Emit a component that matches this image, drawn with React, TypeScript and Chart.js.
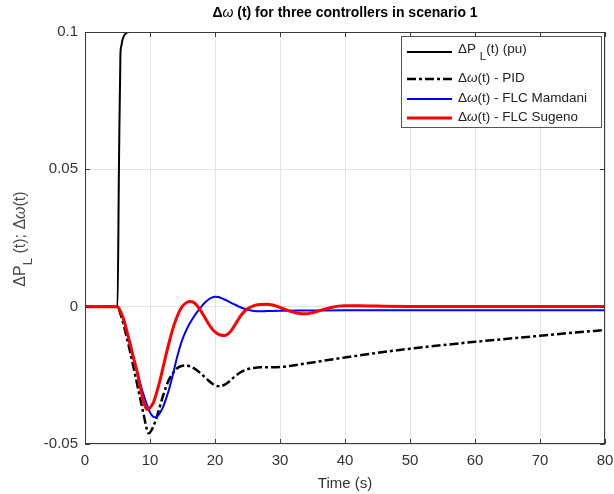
import { useEffect, useRef } from "react";
import { Chart, registerables } from "chart.js";

Chart.register(...registerables);

// ---- Data ----
const xTicks = [0, 10, 20, 30, 40, 50, 60, 70, 80];
const yTicks = [-0.05, 0, 0.05, 0.1];

const stepTime = [0, 5, 5.22, 5.45, 5.6, 5.75, 6.1, 6.8, 80];
const stepValues = [0, 0, 0.05, 0.092, 0.095, 0.097, 0.099, 0.1, 0.1];

const pidTime = [0, 5, 5.5, 6, 6.5, 7, 7.5, 8, 8.5, 9, 9.5, 9.75, 10, 10.5, 11, 11.5, 12, 12.5, 13, 13.5, 14, 14.5, 15, 15.6, 16, 16.5, 17, 17.5, 18, 18.5, 19, 19.5, 20, 20.5, 21, 21.5, 22, 22.5, 23, 24, 25, 26, 27, 28, 30, 32, 35, 40, 45, 50, 55, 60, 65, 70, 75, 80];
const pidValues = [0, 0, -0.003, -0.007, -0.012, -0.017, -0.0225, -0.028, -0.0335, -0.039, -0.0445, -0.0461, -0.0458, -0.0437, -0.0405, -0.0365, -0.0325, -0.029, -0.0262, -0.0243, -0.0228, -0.0219, -0.0215, -0.0214, -0.0216, -0.0221, -0.0228, -0.0237, -0.0247, -0.0258, -0.0269, -0.0279, -0.0286, -0.029, -0.0289, -0.0284, -0.0276, -0.0266, -0.0255, -0.0238, -0.0228, -0.0223, -0.0221, -0.0221, -0.022, -0.0214, -0.0203, -0.0185, -0.0168, -0.0153, -0.014, -0.0128, -0.0117, -0.0106, -0.0095, -0.0085];

const mamdaniTime = [0, 5, 5.5, 6, 6.5, 7, 7.5, 8, 8.5, 9, 9.5, 10, 10.5, 10.8, 11, 11.5, 12, 12.5, 13, 13.5, 14, 14.5, 15, 15.5, 16, 16.5, 17, 17.5, 18, 18.5, 19, 19.5, 20, 20.5, 21, 21.5, 22, 23, 24, 25, 26, 27, 28, 30, 35, 40, 80];
const mamdaniValues = [0, 0, -0.002, -0.0055, -0.01, -0.0145, -0.019, -0.0235, -0.028, -0.032, -0.0355, -0.0385, -0.0401, -0.0403, -0.0402, -0.0388, -0.0366, -0.0333, -0.0295, -0.025, -0.02, -0.0155, -0.0118, -0.009, -0.0066, -0.0046, -0.0028, -0.0012, 0.0003, 0.0016, 0.0026, 0.0033, 0.0036, 0.0035, 0.0031, 0.0026, 0.002, 0.0008, -0.0003, -0.0011, -0.0016, -0.0017, -0.0016, -0.0015, -0.0014, -0.0013, -0.0013];

const sugenoTime = [0, 5, 5.5, 6, 6.5, 7, 7.5, 8, 8.5, 9, 9.5, 10, 10.5, 11, 11.5, 12, 12.5, 13, 13.5, 14, 14.5, 15, 15.5, 16, 16.5, 17, 17.5, 18, 18.5, 19, 19.5, 20, 20.5, 21, 21.5, 22, 22.5, 23, 23.5, 24, 24.5, 25, 26, 27, 28, 29, 30, 31, 32, 33, 34, 35, 36, 37, 38, 39, 40, 42, 45, 50, 80];
const sugenoValues = [0, 0, -0.002, -0.005, -0.0095, -0.014, -0.019, -0.0235, -0.029, -0.0345, -0.0374, -0.0368, -0.035, -0.0315, -0.0272, -0.0222, -0.0172, -0.0125, -0.0082, -0.0047, -0.0018, 0.0002, 0.0013, 0.0019, 0.0018, 0.001, -0.0004, -0.0022, -0.0042, -0.0062, -0.0079, -0.0092, -0.01, -0.0104, -0.0105, -0.0099, -0.0087, -0.0069, -0.005, -0.0032, -0.0018, -0.0008, 0.0004, 0.0008, 0.0009, 0.0005, -0.0003, -0.0012, -0.002, -0.0025, -0.0026, -0.0022, -0.0015, -0.0008, -0.0002, 0.0002, 0.0003, 0.0003, 0.0002, 0.0001, 0.0001];

const seriesLabels = ["ΔP_L(t) (pu)", "Δω(t) - PID", "Δω(t) - FLC Mamdani", "Δω(t) - FLC Sugeno"];

const FONT = '"Liberation Sans", Arial, sans-serif';
const PID_DASH = [9, 3, 3, 3];

const toPoints = (xs: number[], ys: number[]) => xs.map((x, i) => ({ x, y: ys[i] }));

type Part = { t: string; font: string; dy?: number };

function drawRich(ctx: CanvasRenderingContext2D, parts: Part[], x: number, y: number, align: "left" | "center") {
  let total = 0;
  for (const p of parts) {
    ctx.font = p.font;
    total += ctx.measureText(p.t).width;
  }
  let cx = align === "center" ? x - total / 2 : x;
  ctx.textAlign = "left";
  for (const p of parts) {
    ctx.font = p.font;
    ctx.fillText(p.t, cx, y + (p.dy || 0));
    cx += ctx.measureText(p.t).width;
  }
}

const decorPlugin = {
  id: "decor",
  afterDatasetsDraw(chart: any) {
    const { ctx, chartArea: a, scales } = chart;
    ctx.save();
    ctx.strokeStyle = "#3a3a3a";
    ctx.lineWidth = 1;
    ctx.setLineDash([]);
    ctx.strokeRect(Math.round(a.left) + 0.5, Math.round(a.top) + 0.5, Math.round(a.width) - 1, Math.round(a.height) - 1);
    const tl = 5;
    for (const v of xTicks) {
      const px = Math.round(scales.x.getPixelForValue(v)) + 0.5;
      ctx.beginPath();
      ctx.moveTo(px, a.bottom);
      ctx.lineTo(px, a.bottom - tl);
      ctx.moveTo(px, a.top);
      ctx.lineTo(px, a.top + tl);
      ctx.stroke();
    }
    for (const v of yTicks) {
      const py = Math.round(scales.y.getPixelForValue(v)) + 0.5;
      ctx.beginPath();
      ctx.moveTo(a.left, py);
      ctx.lineTo(a.left + tl, py);
      ctx.moveTo(a.right, py);
      ctx.lineTo(a.right - tl, py);
      ctx.stroke();
    }
    ctx.restore();
  },
  afterDraw(chart: any) {
    const { ctx, chartArea: a } = chart;
    ctx.save();
    ctx.textBaseline = "middle";

    // Title
    ctx.fillStyle = "#000";
    drawRich(
      ctx,
      [
        { t: "Δ", font: `bold 14px ${FONT}` },
        { t: "ω", font: `italic 14px ${FONT}` },
        { t: " (t) for three controllers in scenario 1", font: `bold 14px ${FONT}` },
      ],
      (a.left + a.right) / 2,
      13,
      "center"
    );

    // X axis title
    ctx.fillStyle = "#333";
    drawRich(ctx, [{ t: "Time (s)", font: `15px ${FONT}` }], (a.left + a.right) / 2, 484, "center");

    // Y axis title (rotated)
    ctx.save();
    ctx.fillStyle = "#4a4a4a";
    ctx.translate(21, 239);
    ctx.rotate(-Math.PI / 2);
    drawRich(
      ctx,
      [
        { t: "ΔP", font: `16px ${FONT}` },
        { t: "L", font: `13px ${FONT}`, dy: 7 },
        { t: " (t); Δ", font: `16px ${FONT}` },
        { t: "ω", font: `italic 16px ${FONT}` },
        { t: "(t)", font: `16px ${FONT}` },
      ],
      0,
      0,
      "center"
    );
    ctx.restore();

    // Legend
    const bx = 401, by = 36, bw = 200, bh = 91;
    ctx.fillStyle = "#fff";
    ctx.fillRect(bx, by, bw, bh);
    ctx.strokeStyle = "#555";
    ctx.lineWidth = 1;
    ctx.strokeRect(bx + 0.5, by + 0.5, bw, bh);
    const rows = [
      { y: 51, color: "#000", width: 2, dash: [] as number[] },
      { y: 78, color: "#000", width: 2.5, dash: PID_DASH },
      { y: 98, color: "#0000ff", width: 2, dash: [] as number[] },
      { y: 117, color: "#ff0000", width: 3, dash: [] as number[] },
    ];
    rows.forEach((r, i) => {
      ctx.beginPath();
      ctx.strokeStyle = r.color;
      ctx.lineWidth = r.width;
      ctx.setLineDash(r.dash);
      ctx.moveTo(407, r.y + 1);
      ctx.lineTo(452, r.y + 1);
      ctx.stroke();
      ctx.setLineDash([]);
      ctx.fillStyle = "#222";
      const f = `13.5px ${FONT}`;
      if (i === 0) {
        drawRich(
          ctx,
          [
            { t: "ΔP ", font: f },
            { t: "L", font: `11.5px ${FONT}`, dy: 8 },
            { t: "(t) (pu)", font: f },
          ],
          458,
          r.y - 2,
          "left"
        );
      } else {
        const rest = seriesLabels[i].replace("Δω", "");
        drawRich(
          ctx,
          [
            { t: "Δ", font: f },
            { t: "ω", font: `italic ${f}` },
            { t: rest, font: f },
          ],
          458,
          r.y,
          "left"
        );
      }
    });
    ctx.restore();
  },
};

export default function App() {
  const ref = useRef<HTMLCanvasElement | null>(null);
  useEffect(() => {
    if (!ref.current) return;
    const chart = new Chart(ref.current, {
      type: "line",
      data: {
        datasets: [
          {
            label: seriesLabels[0],
            data: toPoints(stepTime, stepValues),
            borderColor: "#000",
            borderWidth: 2,
            pointRadius: 0,
            cubicInterpolationMode: "monotone",
            order: 3,
          },
          {
            label: seriesLabels[1],
            data: toPoints(pidTime, pidValues),
            borderColor: "#000",
            borderWidth: 2.5,
            borderDash: PID_DASH,
            pointRadius: 0,
            cubicInterpolationMode: "monotone",
            order: 2,
          },
          {
            label: seriesLabels[2],
            data: toPoints(mamdaniTime, mamdaniValues),
            borderColor: "#0000ff",
            borderWidth: 2,
            pointRadius: 0,
            cubicInterpolationMode: "monotone",
            order: 1,
          },
          {
            label: seriesLabels[3],
            data: toPoints(sugenoTime, sugenoValues),
            borderColor: "#ff0000",
            borderWidth: 3,
            pointRadius: 0,
            cubicInterpolationMode: "monotone",
            order: 0,
          },
        ],
      },
      plugins: [decorPlugin],
      options: {
        responsive: false,
        animation: false,
        layout: { padding: { left: 0, right: 9, top: 32, bottom: 0 } },
        plugins: {
          legend: { display: false },
          title: { display: false },
          tooltip: { enabled: false },
        },
        scales: {
          x: {
            type: "linear",
            min: 0,
            max: 80,
            afterFit: (s: any) => {
              s.height = 50;
              s.paddingLeft = 0;
              s.paddingRight = 0;
            },
            afterBuildTicks: (s: any) => {
              s.ticks = xTicks.map((v) => ({ value: v }));
            },
            ticks: {
              padding: 8,
              color: "#333",
              font: { family: FONT, size: 15 },
              maxRotation: 0,
              callback: (v: any) => String(v),
            },
            grid: { color: "#e3e3e3", drawTicks: false, lineWidth: 1 },
            border: { display: false },
          },
          y: {
            type: "linear",
            min: -0.05,
            max: 0.1,
            afterFit: (s: any) => {
              s.width = 85;
              s.paddingTop = 0;
              s.paddingBottom = 0;
            },
            afterBuildTicks: (s: any) => {
              s.ticks = yTicks.map((v) => ({ value: v }));
            },
            ticks: {
              padding: 7,
              color: "#333",
              font: { family: FONT, size: 15 },
              callback: (v: any) => String(Number(Number(v).toFixed(3))),
            },
            grid: { color: "#e3e3e3", drawTicks: false, lineWidth: 1 },
            border: { display: false },
          },
        },
      },
    } as any);
    return () => chart.destroy();
  }, []);
  return (
    <div style={{ position: "fixed", left: 0, top: 0, width: 614, height: 494, background: "#fff" }}>
      <canvas ref={ref} width={614} height={494} style={{ display: "block" }} />
    </div>
  );
}
